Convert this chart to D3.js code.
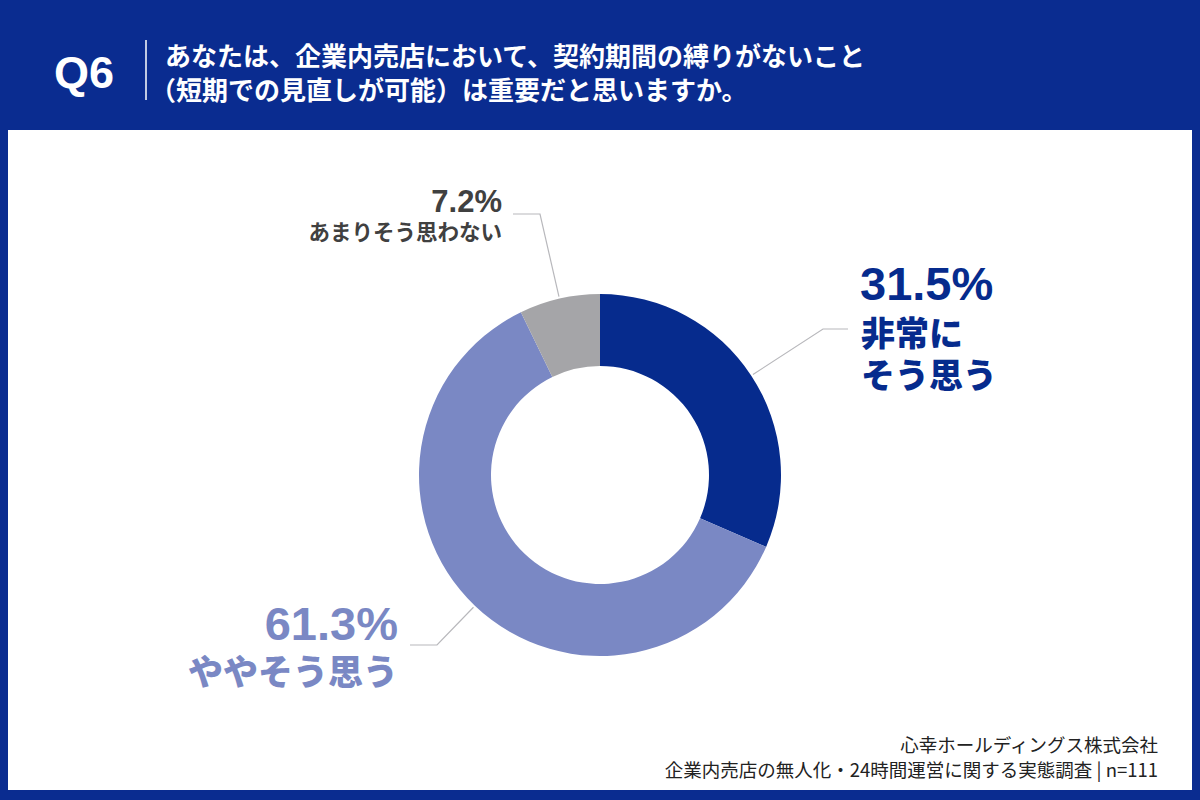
<!DOCTYPE html>
<html>
<head>
<meta charset="utf-8">
<script src="https://cdn.jsdelivr.net/npm/d3@7"></script>
<style>
  html, body { margin: 0; padding: 0; background: #0a2c90; }
  svg { display: block; }
  text { font-family: "Noto Sans CJK JP", "Noto Sans", sans-serif; }
</style>
</head>
<body>
<svg id="chart"></svg>
<script>
const categories = ["非常にそう思う", "ややそう思う", "あまりそう思わない"]
const values = [31.5, 61.3, 7.2]
const pctLabels = ["31.5%", "61.3%", "7.2%"]
const colors = ["#062b8d", "#7a88c4", "#a5a5a8"]
const titleLines = ["あなたは、企業内売店において、契約期間の縛りがないこと", "（短期での見直しが可能）は重要だと思いますか。"]
const footerLines = ["心幸ホールディングス株式会社", "企業内売店の無人化・24時間運営に関する実態調査 | n=111"]

const W = 1200, H = 800
const navy = "#0a2c90"
const svg = d3.select('#chart').attr('width', W).attr('height', H)

// background + white panel
svg.append('rect').attr('width', W).attr('height', H).attr('fill', navy)
svg.append('rect').attr('x', 8).attr('y', 130).attr('width', W - 16).attr('height', 660).attr('fill', '#ffffff')

// header
svg.append('text').attr('x', 54).attr('y', 88)
  .attr('fill', '#fff').style('font-size', '45px').style('font-weight', 700)
  .style('font-family', '"Liberation Sans", Arial, sans-serif')
  .text('Q6')
svg.append('line').attr('x1', 146).attr('x2', 146).attr('y1', 40).attr('y2', 100)
  .attr('stroke', '#fff').attr('stroke-width', 1.5)
svg.append('g').selectAll('text')
  .data(titleLines)
  .join('text')
  .attr('x', (d, i) => i === 0 ? 165 : 150)
  .attr('y', (d, i) => 66 + i * 34)
  .attr('fill', '#fff').style('font-size', '26px').style('font-weight', 700)
  .text(d => d)

// donut
const cx = 600, cy = 475, outerR = 181, innerR = 109
const pie = d3.pie().sort(null).value(d => d)
const arcs = pie(values)
const arc = d3.arc().innerRadius(innerR).outerRadius(outerR)
const g = svg.append('g').attr('transform', `translate(${cx},${cy})`)
g.selectAll('path')
  .data(arcs)
  .join('path')
  .attr('d', arc)
  .attr('fill', (d, i) => colors[i])

// leader lines: start on the outer edge at mid-angle, then elbow, then horizontal end
const edgePt = (d, r) => {
  const a = (d.startAngle + d.endAngle) / 2
  return [cx + r * Math.sin(a), cy - r * Math.cos(a)]
}
const leaders = [
  { elbow: [823, 329], end: [848, 329] },
  { elbow: [437, 645], end: [410, 645] },
  { elbow: [540, 214], end: [513, 214] }
]
svg.append('g').selectAll('polyline')
  .data(arcs)
  .join('polyline')
  .attr('points', (d, i) => [edgePt(d, outerR + 2), leaders[i].elbow, leaders[i].end].map(p => p.join(',')).join(' '))
  .attr('fill', 'none').attr('stroke', '#b8b8bc').attr('stroke-width', 1.2)

// labels
const lbl = svg.append('g')
const numFont = '"Liberation Sans", Arial, sans-serif'

// 31.5%
lbl.append('text').attr('x', 860).attr('y', 300)
  .attr('fill', colors[0]).style('font-size', '47px').style('font-weight', 700).style('font-family', numFont)
  .text(pctLabels[0])
lbl.append('text').attr('x', 861).attr('y', 346)
  .attr('fill', colors[0]).style('font-size', '34px').style('font-weight', 900)
  .text(categories[0].slice(0, 3))
lbl.append('text').attr('x', 861).attr('y', 388)
  .attr('fill', colors[0]).style('font-size', '34px').style('font-weight', 900)
  .text(categories[0].slice(3))

// 61.3%
lbl.append('text').attr('x', 398).attr('y', 640).attr('text-anchor', 'end')
  .attr('fill', colors[1]).style('font-size', '47px').style('font-weight', 700).style('font-family', numFont)
  .text(pctLabels[1])
lbl.append('text').attr('x', 398).attr('y', 685).attr('text-anchor', 'end')
  .attr('fill', colors[1]).style('font-size', '35px').style('font-weight', 900)
  .text(categories[1])

// 7.2%
lbl.append('text').attr('x', 502).attr('y', 212).attr('text-anchor', 'end')
  .attr('fill', '#404040').style('font-size', '31px').style('font-weight', 700).style('font-family', numFont)
  .text(pctLabels[2])
lbl.append('text').attr('x', 502).attr('y', 240).attr('text-anchor', 'end')
  .attr('fill', '#404040').style('font-size', '21.5px').style('font-weight', 700)
  .text(categories[2])

// footer
svg.append('g').selectAll('text')
  .data(footerLines)
  .join('text')
  .attr('x', 1158).attr('y', (d, i) => 752 + i * 25)
  .attr('text-anchor', 'end')
  .attr('fill', '#222').style('font-size', '18.5px')
  .text(d => d)
</script>
</body>
</html>
